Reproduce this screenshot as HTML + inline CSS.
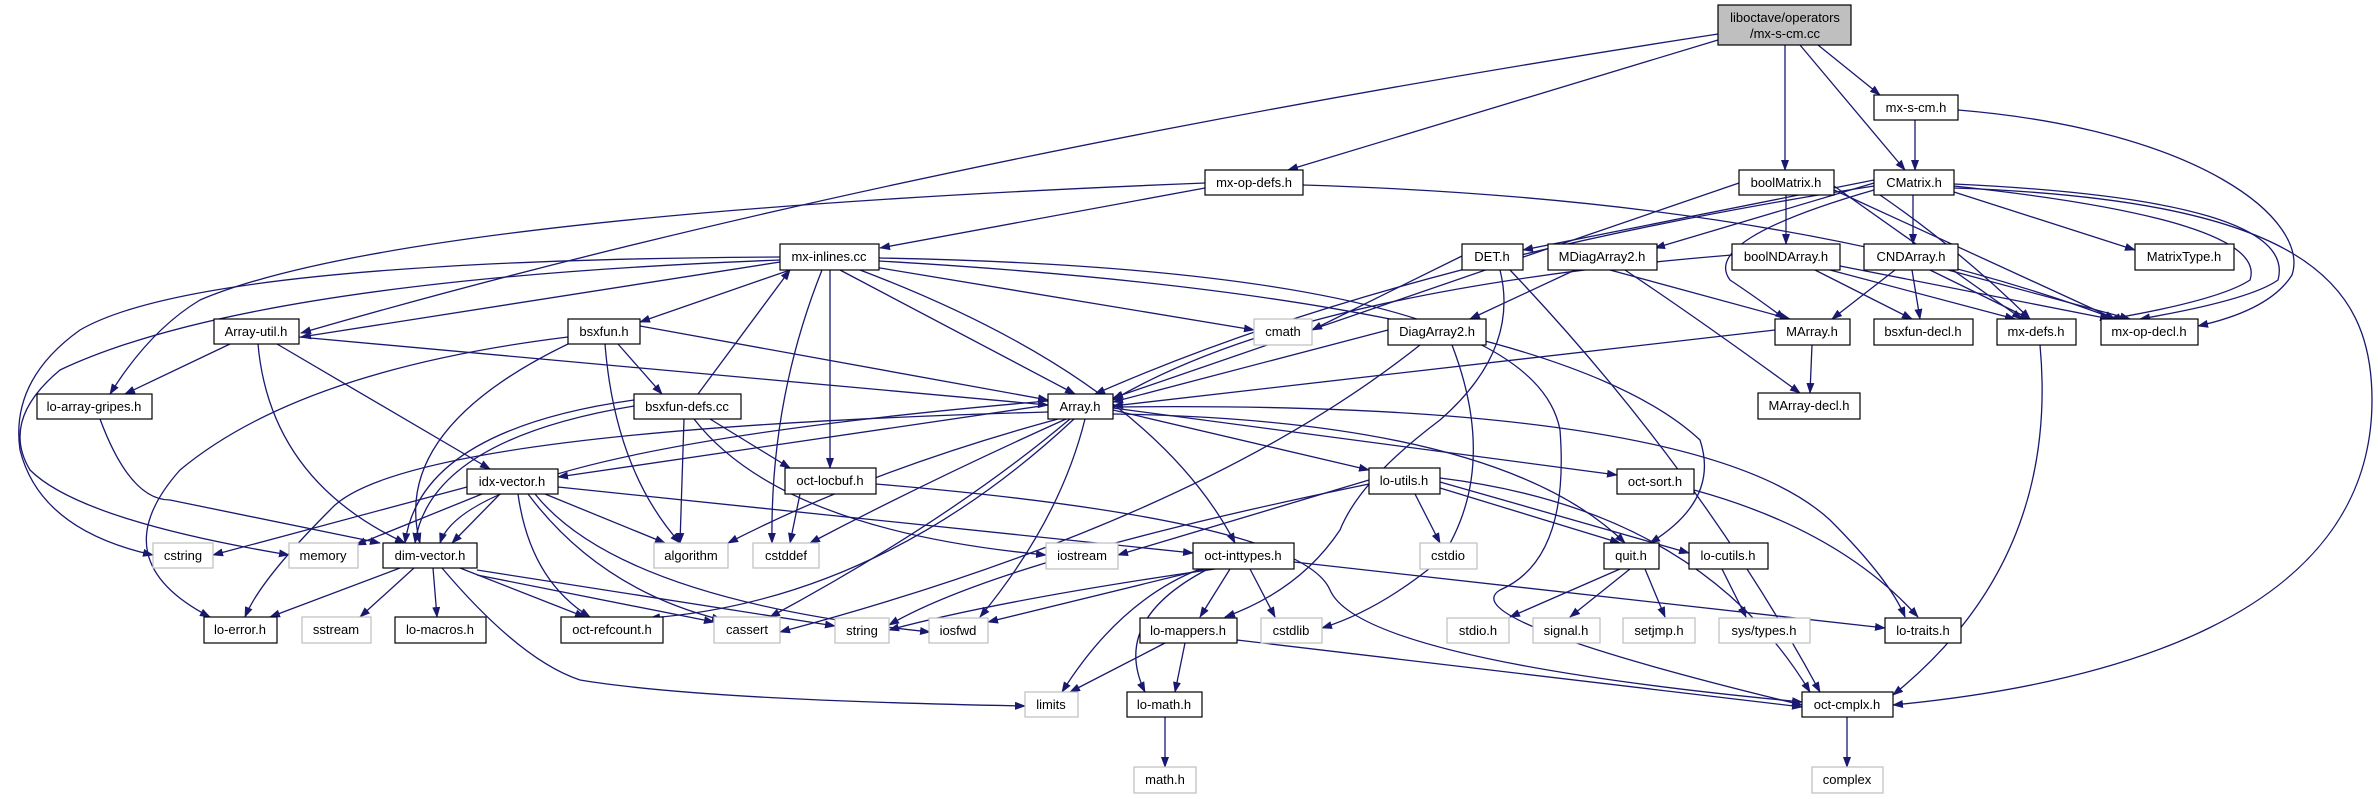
<!DOCTYPE html>
<html><head><meta charset="utf-8"><style>
html,body{margin:0;padding:0;background:#fff;}
svg{display:block}
text{font-family:"Liberation Sans",Arial,sans-serif;font-size:13px;fill:#000;text-anchor:middle;}
.e{fill:none;stroke:#191970;stroke-width:1.3;marker-end:url(#a)}
.n{fill:#fff;stroke:#000;stroke-width:1.2}
.g{fill:#fff;stroke:#bfbfbf;stroke-width:1.2}
</style></head><body>
<svg width="2378" height="799" viewBox="0 0 2378 799" xmlns="http://www.w3.org/2000/svg">
<defs><marker id="a" markerWidth="11" markerHeight="8" refX="10" refY="4" orient="auto" markerUnits="userSpaceOnUse"><path d="M0,0 L11,4 L0,8 z" fill="#191970"/></marker></defs>
<g>
<path class="e" d="M1818,45 L1880,95"/>
<path class="e" d="M1785,45 L1785,170"/>
<path class="e" d="M1800,45 L1905,170"/>
<path class="e" d="M1718,40 L1288,170"/>
<path class="e" d="M1718,34 Q900,160 301,333"/>
<path class="e" d="M1915,120 L1915,170"/>
<path class="e" d="M1958,110 C2200,130 2310,220 2292,275 Q2270,310 2198,326"/>
<path class="e" d="M1205,188 L880,248"/>
<path class="e" d="M1303,185 Q1800,200 2115,319"/>
<path class="e" d="M1205,183 Q400,215 200,300 Q150,330 110,394"/>
<path class="e" d="M780,262 L301,337"/>
<path class="e" d="M780,257 Q200,260 80,330 Q10,380 20,450 Q40,530 153,555"/>
<path class="e" d="M780,260 Q250,280 60,370 Q0,420 30,470 Q80,520 289,555"/>
<path class="e" d="M790,270 L640,322"/>
<path class="e" d="M840,270 L1075,394"/>
<path class="e" d="M868,266 L1254,330"/>
<path class="e" d="M830,270 L830,468"/>
<path class="e" d="M822,270 Q770,400 772,543"/>
<path class="e" d="M860,270 Q1150,380 1235,543"/>
<path class="e" d="M879,258 Q1530,270 1560,430 Q1570,560 1500,590 Q1450,620 1802,705"/>
<path class="e" d="M879,261 Q1550,300 1700,440 Q1720,500 1650,543"/>
<path class="e" d="M230,344 L125,394"/>
<path class="e" d="M258,344 Q270,480 405,543"/>
<path class="e" d="M277,344 L490,469"/>
<path class="e" d="M299,337 L1048,405"/>
<path class="e" d="M640,326 L1048,400"/>
<path class="e" d="M618,344 L662,394"/>
<path class="e" d="M605,344 Q615,470 680,543"/>
<path class="e" d="M568,344 Q390,430 420,543"/>
<path class="e" d="M568,337 Q300,370 180,470 Q100,560 210,617"/>
<path class="e" d="M698,394 L790,270"/>
<path class="e" d="M684,419 L680,543"/>
<path class="e" d="M634,400 Q420,430 405,543"/>
<path class="e" d="M634,406 Q430,440 415,543"/>
<path class="e" d="M710,419 L790,468"/>
<path class="e" d="M694,419 Q780,530 1046,555"/>
<path class="e" d="M1048,412 Q400,430 330,510 Q260,580 245,617"/>
<path class="e" d="M100,419 Q130,500 170,500 L380,543"/>
<path class="e" d="M467,487 L213,555"/>
<path class="e" d="M482,494 L356,545"/>
<path class="e" d="M500,494 L452,543"/>
<path class="e" d="M545,494 L665,543"/>
<path class="e" d="M518,494 Q530,580 590,617"/>
<path class="e" d="M528,494 Q600,590 722,620"/>
<path class="e" d="M535,494 Q620,600 930,632"/>
<path class="e" d="M558,487 L1193,553"/>
<path class="e" d="M400,568 L270,617"/>
<path class="e" d="M414,568 L360,617"/>
<path class="e" d="M433,568 L437,617"/>
<path class="e" d="M460,568 L585,617"/>
<path class="e" d="M477,575 L714,622"/>
<path class="e" d="M477,570 L835,626"/>
<path class="e" d="M442,568 Q520,660 580,680 Q700,700 1025,706"/>
<path class="e" d="M1048,405 L558,477"/>
<path class="e" d="M1048,401 Q470,450 440,543"/>
<path class="e" d="M1058,419 Q870,470 728,543"/>
<path class="e" d="M1066,419 Q930,480 810,543"/>
<path class="e" d="M1070,419 Q950,520 770,617"/>
<path class="e" d="M1074,419 Q880,600 650,618"/>
<path class="e" d="M1085,419 Q1060,520 980,617"/>
<path class="e" d="M1113,410 L1369,470"/>
<path class="e" d="M1113,408 L1617,475"/>
<path class="e" d="M1113,414 Q1500,420 1625,543"/>
<path class="e" d="M1113,407 Q1700,400 1830,520 Q1890,580 1905,617"/>
<path class="e" d="M1739,183 L1113,398"/>
<path class="e" d="M1874,186 Q1400,260 1095,394"/>
<path class="e" d="M1775,330 L1113,406"/>
<path class="e" d="M1388,330 L1113,402"/>
<path class="e" d="M1732,255 Q1300,290 1113,400"/>
<path class="e" d="M800,494 L790,543"/>
<path class="e" d="M876,484 Q1300,520 1330,590 Q1360,660 1802,702"/>
<path class="e" d="M1369,480 L1118,555"/>
<path class="e" d="M1369,484 Q1000,560 889,625"/>
<path class="e" d="M1415,494 L1440,543"/>
<path class="e" d="M1440,488 L1620,543"/>
<path class="e" d="M1440,482 L1689,553"/>
<path class="e" d="M1440,478 Q1700,510 1810,692"/>
<path class="e" d="M1205,569 L988,622"/>
<path class="e" d="M1215,569 Q1000,600 889,630"/>
<path class="e" d="M1230,569 L1200,617"/>
<path class="e" d="M1250,569 L1275,617"/>
<path class="e" d="M1200,569 Q1120,600 1062,692"/>
<path class="e" d="M1208,569 Q1110,620 1145,692"/>
<path class="e" d="M1294,562 L1885,628"/>
<path class="e" d="M1620,569 L1510,617"/>
<path class="e" d="M1630,569 L1570,617"/>
<path class="e" d="M1645,569 L1665,617"/>
<path class="e" d="M1722,569 L1746,617"/>
<path class="e" d="M1694,490 Q1840,530 1918,617"/>
<path class="e" d="M1165,643 L1070,692"/>
<path class="e" d="M1185,643 L1175,692"/>
<path class="e" d="M1237,640 L1802,707"/>
<path class="e" d="M1165,717 L1165,767"/>
<path class="e" d="M1847,717 L1847,767"/>
<path class="e" d="M1462,256 L1312,330"/>
<path class="e" d="M1500,270 Q1520,350 1440,420 Q1360,480 1340,530 Q1300,590 1225,617"/>
<path class="e" d="M1510,270 Q1700,470 1820,692"/>
<path class="e" d="M1575,270 L1470,319"/>
<path class="e" d="M1610,270 L1790,319"/>
<path class="e" d="M1625,270 Q1700,320 1800,393"/>
<path class="e" d="M1452,345 Q1500,470 1440,560 Q1380,610 1322,628"/>
<path class="e" d="M1420,345 Q1200,520 780,632"/>
<path class="e" d="M1834,186 L2022,319"/>
<path class="e" d="M1834,190 L2115,319"/>
<path class="e" d="M1786,195 L1786,244"/>
<path class="e" d="M1815,270 L1912,319"/>
<path class="e" d="M1830,270 L2015,319"/>
<path class="e" d="M1840,266 L2110,319"/>
<path class="e" d="M1874,180 L1523,250"/>
<path class="e" d="M1874,183 L1655,248"/>
<path class="e" d="M1913,195 L1913,244"/>
<path class="e" d="M1954,192 L2135,250"/>
<path class="e" d="M1880,195 Q1960,250 2030,319"/>
<path class="e" d="M1954,186 Q2270,220 2250,280 Q2220,300 2110,319"/>
<path class="e" d="M1954,184 Q2300,200 2278,280 Q2250,300 2140,319"/>
<path class="e" d="M1954,188 C2300,200 2372,280 2372,400 C2372,620 2100,685 1893,705"/>
<path class="e" d="M1874,190 Q1700,240 1730,280 Q1760,300 1785,319"/>
<path class="e" d="M1895,270 L1832,319"/>
<path class="e" d="M1912,270 L1920,319"/>
<path class="e" d="M1930,270 L2030,319"/>
<path class="e" d="M1948,270 L2130,319"/>
<path class="e" d="M1812,345 L1810,393"/>
<path class="e" d="M2040,345 Q2060,560 1893,695"/>
</g>
<g>
<rect x="1718" y="5" width="133" height="40" fill="#bfbfbf" stroke="#000" stroke-width="1.2"/>
<text x="1785" y="22">liboctave/operators</text><text x="1785" y="38">/mx-s-cm.cc</text>
<rect class="n" x="1874" y="95" width="84" height="25"/><text x="1916" y="112">mx-s-cm.h</text>
<rect class="n" x="1205" y="170" width="98" height="25"/><text x="1254" y="187">mx-op-defs.h</text>
<rect class="n" x="1739" y="170" width="95" height="25"/><text x="1786" y="187">boolMatrix.h</text>
<rect class="n" x="1874" y="170" width="80" height="25"/><text x="1914" y="187">CMatrix.h</text>
<rect class="n" x="780" y="244" width="99" height="26"/><text x="829" y="261">mx-inlines.cc</text>
<rect class="n" x="1462" y="244" width="61" height="26"/><text x="1492" y="261">DET.h</text>
<rect class="n" x="1548" y="244" width="109" height="26"/><text x="1602" y="261">MDiagArray2.h</text>
<rect class="n" x="1732" y="244" width="108" height="26"/><text x="1786" y="261">boolNDArray.h</text>
<rect class="n" x="1864" y="244" width="94" height="26"/><text x="1911" y="261">CNDArray.h</text>
<rect class="n" x="2135" y="244" width="99" height="26"/><text x="2184" y="261">MatrixType.h</text>
<rect class="n" x="214" y="319" width="85" height="25"/><text x="256" y="336">Array-util.h</text>
<rect class="n" x="568" y="319" width="72" height="25"/><text x="604" y="336">bsxfun.h</text>
<rect class="g" x="1254" y="319" width="58" height="26"/><text x="1283" y="336">cmath</text>
<rect class="n" x="1388" y="319" width="98" height="26"/><text x="1437" y="336">DiagArray2.h</text>
<rect class="n" x="1775" y="319" width="75" height="26"/><text x="1812" y="336">MArray.h</text>
<rect class="n" x="1874" y="319" width="99" height="26"/><text x="1923" y="336">bsxfun-decl.h</text>
<rect class="n" x="1997" y="319" width="79" height="26"/><text x="2036" y="336">mx-defs.h</text>
<rect class="n" x="2101" y="319" width="97" height="26"/><text x="2149" y="336">mx-op-decl.h</text>
<rect class="n" x="37" y="394" width="115" height="25"/><text x="94" y="411">lo-array-gripes.h</text>
<rect class="n" x="634" y="394" width="107" height="25"/><text x="687" y="411">bsxfun-defs.cc</text>
<rect class="n" x="1048" y="394" width="65" height="25"/><text x="1080" y="411">Array.h</text>
<rect class="n" x="1758" y="393" width="102" height="26"/><text x="1809" y="410">MArray-decl.h</text>
<rect class="n" x="467" y="469" width="91" height="25"/><text x="512" y="486">idx-vector.h</text>
<rect class="n" x="785" y="468" width="91" height="26"/><text x="830" y="485">oct-locbuf.h</text>
<rect class="n" x="1369" y="468" width="71" height="26"/><text x="1404" y="485">lo-utils.h</text>
<rect class="n" x="1617" y="469" width="77" height="25"/><text x="1655" y="486">oct-sort.h</text>
<rect class="g" x="153" y="543" width="60" height="25"/><text x="183" y="560">cstring</text>
<rect class="g" x="289" y="543" width="69" height="25"/><text x="323" y="560">memory</text>
<rect class="n" x="383" y="543" width="94" height="25"/><text x="430" y="560">dim-vector.h</text>
<rect class="g" x="654" y="543" width="74" height="25"/><text x="691" y="560">algorithm</text>
<rect class="g" x="753" y="543" width="66" height="25"/><text x="786" y="560">cstddef</text>
<rect class="g" x="1046" y="543" width="72" height="26"/><text x="1082" y="560">iostream</text>
<rect class="n" x="1193" y="543" width="101" height="26"/><text x="1243" y="560">oct-inttypes.h</text>
<rect class="g" x="1420" y="543" width="57" height="26"/><text x="1448" y="560">cstdio</text>
<rect class="n" x="1604" y="543" width="55" height="26"/><text x="1631" y="560">quit.h</text>
<rect class="n" x="1689" y="543" width="79" height="26"/><text x="1728" y="560">lo-cutils.h</text>
<rect class="n" x="204" y="617" width="73" height="26"/><text x="240" y="634">lo-error.h</text>
<rect class="g" x="302" y="617" width="69" height="26"/><text x="336" y="634">sstream</text>
<rect class="n" x="395" y="617" width="91" height="26"/><text x="440" y="634">lo-macros.h</text>
<rect class="n" x="561" y="617" width="102" height="26"/><text x="612" y="634">oct-refcount.h</text>
<rect class="g" x="714" y="617" width="66" height="26"/><text x="747" y="634">cassert</text>
<rect class="g" x="835" y="618" width="54" height="25"/><text x="862" y="635">string</text>
<rect class="g" x="929" y="618" width="59" height="25"/><text x="958" y="635">iosfwd</text>
<rect class="n" x="1140" y="618" width="97" height="25"/><text x="1188" y="635">lo-mappers.h</text>
<rect class="g" x="1261" y="618" width="61" height="25"/><text x="1291" y="635">cstdlib</text>
<rect class="g" x="1447" y="618" width="62" height="25"/><text x="1478" y="635">stdio.h</text>
<rect class="g" x="1533" y="618" width="67" height="25"/><text x="1566" y="635">signal.h</text>
<rect class="g" x="1623" y="618" width="72" height="25"/><text x="1659" y="635">setjmp.h</text>
<rect class="g" x="1719" y="618" width="91" height="25"/><text x="1764" y="635">sys/types.h</text>
<rect class="n" x="1885" y="618" width="76" height="25"/><text x="1923" y="635">lo-traits.h</text>
<rect class="g" x="1025" y="692" width="53" height="25"/><text x="1051" y="709">limits</text>
<rect class="n" x="1127" y="692" width="75" height="25"/><text x="1164" y="709">lo-math.h</text>
<rect class="n" x="1802" y="692" width="91" height="25"/><text x="1847" y="709">oct-cmplx.h</text>
<rect class="g" x="1134" y="767" width="62" height="26"/><text x="1165" y="784">math.h</text>
<rect class="g" x="1812" y="767" width="71" height="26"/><text x="1847" y="784">complex</text>
</g>
</svg>
</body></html>
